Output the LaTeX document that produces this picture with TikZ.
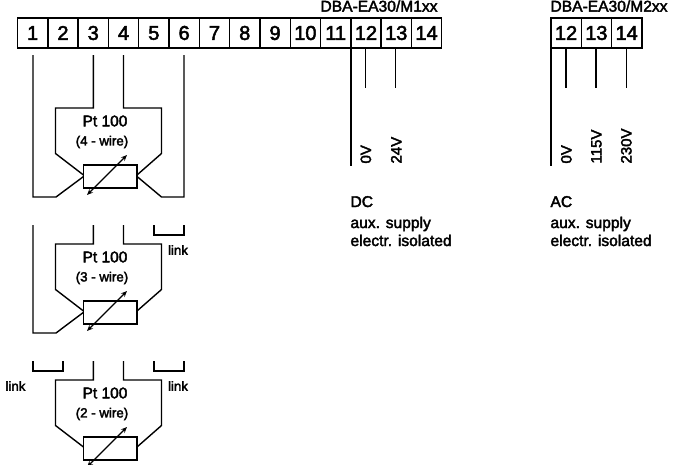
\documentclass[tikz,border=0pt]{standalone}
\usepackage{fontspec}
\setmainfont[FakeBold=2.5]{Liberation Sans}
\usetikzlibrary{arrows.meta}
\tikzset{
  x=1pt,y=-1pt,
  wire/.style={line width=1.4pt,line join=miter},
  cell/.style={draw,line width=1.4pt,minimum width=30.3pt,minimum height=30.3pt,inner sep=0pt,outer sep=0pt,font=\fontsize{20}{21}\selectfont},
  txt/.style={inner sep=0pt,outer sep=0pt,font=\fontsize{15.5}{17}\selectfont},
  small/.style={inner sep=0pt,outer sep=0pt,font=\fontsize{13.3}{15}\selectfont},
  linklab/.style={inner sep=0pt,outer sep=0pt,font=\fontsize{13.3}{15}\selectfont},
  head/.style={inner sep=0pt,outer sep=0pt,font=\fontsize{15.6}{17}\selectfont,anchor=base west},
  vlab/.style={inner sep=0pt,outer sep=0pt,font=\fontsize{15}{17}\selectfont,rotate=90,anchor=base west},
  rtd/.style={draw,line width=1.4pt,minimum width=53.5pt,minimum height=23pt,inner sep=0pt,outer sep=0pt},
  adj/.style={line width=1.4pt,{Stealth[length=6pt,width=5pt]}-{Stealth[length=6pt,width=5pt]}}
}
\begin{document}
\begin{tikzpicture}
\useasboundingbox (0,0) rectangle (686,464);
\clip (0,0) rectangle (686,464);
% terminal strips
\foreach \n in {1,...,14}{
  \node[cell] (t\n) at ({17.5+30.3*(\n-0.5)},33) {\n};
}
\foreach \n/\k in {12/0,13/1,14/2}{
  \node[cell] (u\n) at ({550.9+30.3*(\k+0.5)},33) {\n};
}
\node[head] at (320.5,11.6) {DBA-EA30/M1xx};
\node[head] at (550.5,11.6) {DBA-EA30/M2xx};
% supply wires
\coordinate (dc0) at (t12.south west);
\draw[wire] (dc0) -- ++(0,117.5);
\draw[wire] (365.5,48) -- (365.5,88);
\draw[wire] (395.7,48) -- (395.7,88);
\draw[wire] (u12.south west) -- ++(0,117.5);
\draw[wire] (565.8,48) -- (565.8,88);
\draw[wire] (595.8,48) -- (595.8,88);
\draw[wire] (626.2,48) -- (626.2,88);
\node[vlab] at (371,163.5) {0V};
\node[vlab] at (401.5,163.5) {24V};
\node[vlab] at (571.5,163.5) {0V};
\node[vlab] at (601.5,163.5) {115V};
\node[vlab] at (631.5,163.5) {230V};
\node[head] at (350.5,207) {DC};
\node[head] at (350.5,228) {aux. supply};
\node[head] at (350.5,246) {electr. isolated};
\node[head] at (550.5,207) {AC};
\node[head] at (550.5,228) {aux. supply};
\node[head] at (550.5,246) {electr. isolated};
% 4-wire
\node[rtd] (ra) at (110.3,176.5) {};
\draw[adj] (87,195) -- (127,155);
\node[txt] at (105,121) {Pt 100};
\node[small] at (102,142) {(4 - wire)};
\draw[wire] (33,55) -- (33,197) -- (56,197) -- (ra.west);
\draw[wire] (184,55) -- (184,197) -- (161.5,197) -- (ra.east);
\draw[wire] (93.3,55) -- (93.3,108) -- (55.5,108) -- (55.5,153.5) -- (83.5,175);
\draw[wire] (123.5,55) -- (123.5,108) -- (161.5,108) -- (161.5,153.5) -- (137,175);
% 3-wire
\node[rtd] (rb) at (110.3,312.3) {};
\draw[adj] (87,331) -- (127,291);
\node[txt] at (105,257) {Pt 100};
\node[small] at (102,278) {(3 - wire)};
\draw[wire] (33,225) -- (33,333) -- (56,333) -- (rb.west);
\draw[wire] (93.3,225) -- (93.3,244) -- (55.5,244) -- (55.5,289.5) -- (83.5,311);
\draw[wire] (123.5,225) -- (123.5,244) -- (161.5,244) -- (161.5,289.5) -- (137,311);
\draw[wire] (154,225) -- (154,235) -- (184,235) -- (184,225);
\node[linklab] at (178,250) {link};
% 2-wire
\node[rtd] (rc) at (110.3,448.5) {};
\draw[adj] (87,467) -- (127,427);
\node[txt] at (105,393) {Pt 100};
\node[small] at (102,414) {(2 - wire)};
\draw[wire] (93.3,361) -- (93.3,380) -- (55.5,380) -- (55.5,425.5) -- (83.5,447);
\draw[wire] (123.5,361) -- (123.5,380) -- (161.5,380) -- (161.5,425.5) -- (137,447);
\draw[wire] (33,361) -- (33,371) -- (63,371) -- (63,361);
\draw[wire] (154,361) -- (154,371) -- (184,371) -- (184,361);
\node[linklab] at (15.5,386) {link};
\node[linklab] at (178,386) {link};
\end{tikzpicture}
\end{document}
